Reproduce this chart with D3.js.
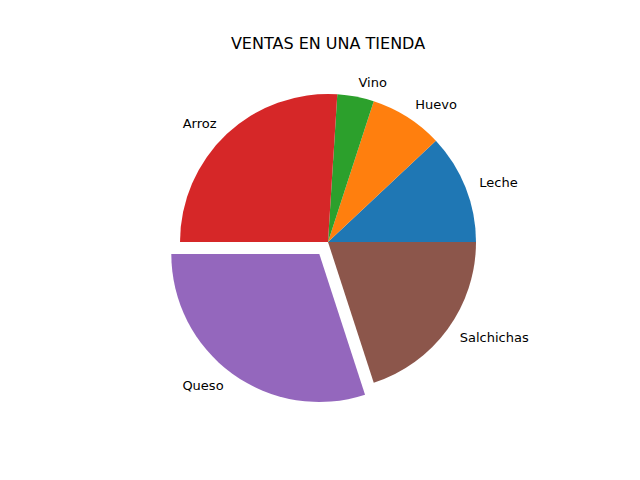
<!DOCTYPE html>
<html><head><meta charset="utf-8">
<script src="https://cdn.jsdelivr.net/npm/d3@7"></script>
<style>body{margin:0;background:#fff}</style>
</head><body>
<svg width="640" height="480"></svg>
<script>
var labels = ["Leche", "Huevo", "Vino", "Arroz", "Queso", "Salchichas"];
var values = [12, 8, 4, 26, 30, 20];
var explode = [0, 0, 0, 0, 0.1, 0];
var colors = ["#1f77b4", "#ff7f0e", "#2ca02c", "#d62728", "#9467bd", "#8c564b"];

var svg = d3.select("svg");
var cx = 328, cy = 242, r = 148;

svg.append("text").attr("x", 328).attr("y", 49).attr("text-anchor", "middle")
  .style("font-family", "DejaVu Sans").style("font-size", "16px").text("VENTAS EN UNA TIENDA");

var total = d3.sum(values);
// angle scale: matplotlib style, counterclockwise from east
var ang = d3.scaleLinear().domain([0, total]).range([0, 2 * Math.PI]);
var arc = d3.arc().innerRadius(0).outerRadius(r);

var acc = 0;
values.forEach(function(v, i){
  var t0 = ang(acc), t1 = ang(acc + v);
  acc += v;
  var mid = (t0 + t1) / 2;
  var ox = Math.cos(mid) * explode[i] * r, oy = -Math.sin(mid) * explode[i] * r;
  svg.append("path")
    .attr("d", arc({startAngle: Math.PI / 2 - t0, endAngle: Math.PI / 2 - t1}))
    .attr("transform", "translate(" + (cx + ox) + "," + (cy + oy) + ")")
    .attr("fill", colors[i]);
  var lx = cx + ox + Math.cos(mid) * r * 1.1;
  var ly = cy + oy - Math.sin(mid) * r * 1.1;
  svg.append("text").attr("x", lx).attr("y", ly).attr("dy", "0.35em")
    .attr("text-anchor", Math.cos(mid) >= 0 ? "start" : "end")
    .style("font-family", "DejaVu Sans").style("font-size", "13px")
    .text(labels[i]);
});
</script>
</body></html>
